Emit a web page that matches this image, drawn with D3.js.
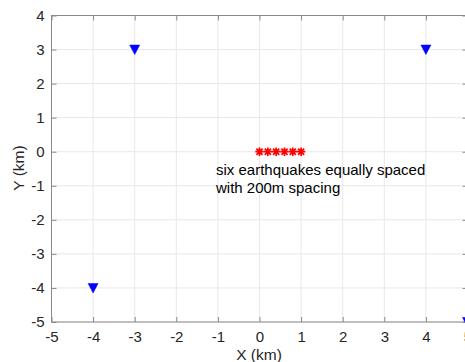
<!DOCTYPE html>
<html>
<head>
<meta charset="utf-8">
<script src="https://cdn.jsdelivr.net/npm/d3@7"></script>
<style>
  html, body { margin: 0; padding: 0; background: #fff; overflow: hidden; }
  svg { display: block; font-family: "Liberation Sans", Arial, Helvetica, sans-serif; }
</style>
</head>
<body>
<svg id="chart" width="465" height="362"></svg>
<script>
// ---- data ----
const stationX = [-3, 4, -4, 5];
const stationY = [3, 3, -4, -5];
const quakeX = [0, 0.2, 0.4, 0.6, 0.8, 1.0];
const quakeY = [0, 0, 0, 0, 0, 0];
const xTicks = [-5, -4, -3, -2, -1, 0, 1, 2, 3, 4, 5];
const yTicks = [-5, -4, -3, -2, -1, 0, 1, 2, 3, 4];
const annotationLines = ["six earthquakes equally spaced", "with 200m spacing"];
const xLabel = "X (km)";
const yLabel = "Y (km)";

// ---- layout ----
const mLeft = 51.5, mRight = 467.5, mTop = 15.5, mBottom = 322;
const svg = d3.select("#chart");

const x = d3.scaleLinear().domain([-5, 5]).range([mLeft, mRight]);
const y = d3.scaleLinear().domain([-5, 4]).range([mBottom, mTop]);

const gridColor = "#e8e8e8";
const axisColor = "#8a8a8a";
const textColor = "#262626";
const FONT = "Liberation Sans, Arial, Helvetica, sans-serif";
const fmt = d => String(d);

// grid
const grid = svg.append("g");
grid.selectAll("line.gx").data(xTicks).join("line").attr("class", "gx")
  .attr("x1", d => x(d)).attr("x2", d => x(d))
  .attr("y1", mTop).attr("y2", mBottom)
  .attr("stroke", gridColor).attr("stroke-width", 1);
grid.selectAll("line.gy").data(yTicks).join("line").attr("class", "gy")
  .attr("x1", mLeft).attr("x2", mRight)
  .attr("y1", d => y(d)).attr("y2", d => y(d))
  .attr("stroke", gridColor).attr("stroke-width", 1);

// axes (ticks inward)
function styleAxis(g, showLabels) {
  g.attr("font-family", FONT);
  g.select(".domain").remove();
  g.selectAll(".tick line").attr("stroke", axisColor);
  g.selectAll(".tick text")
    .attr("fill", textColor)
    .style("font-size", "15px")
    .style("display", showLabels ? null : "none");
}
svg.append("g").attr("transform", `translate(0,${mBottom})`)
  .call(d3.axisBottom(x).tickValues(xTicks).tickSize(-5).tickPadding(9).tickFormat(fmt))
  .call(g => styleAxis(g, true));
svg.append("g").attr("transform", `translate(0,${mTop})`)
  .call(d3.axisTop(x).tickValues(xTicks).tickSize(-5).tickFormat(""))
  .call(g => styleAxis(g, false));
svg.append("g").attr("transform", `translate(${mLeft},0)`)
  .call(d3.axisLeft(y).tickValues(yTicks).tickSize(-5).tickPadding(7).tickFormat(fmt))
  .call(g => styleAxis(g, true));
svg.append("g").attr("transform", `translate(${mRight},0)`)
  .call(d3.axisRight(y).tickValues(yTicks).tickSize(-5).tickFormat(""))
  .call(g => styleAxis(g, false));

// box
svg.append("rect")
  .attr("x", mLeft).attr("y", mTop)
  .attr("width", mRight - mLeft).attr("height", mBottom - mTop)
  .attr("fill", "none").attr("stroke", axisColor).attr("stroke-width", 1);

// stations: downward triangles
const stations = stationX.map((d, i) => ({ x: stationX[i], y: stationY[i] }));
svg.append("g").selectAll("path").data(stations).join("path")
  .attr("transform", d => `translate(${x(d.x)},${y(d.y)})`)
  .attr("d", "M-5,-4.5 L5,-4.5 L0,5 Z")
  .attr("fill", "#0000ff").attr("stroke", "#0000ff").attr("stroke-width", 0.5);

// earthquakes: asterisks
const quakes = quakeX.map((d, i) => ({ x: quakeX[i], y: quakeY[i] }));
const r = 4.2, rd = 3.1;
const starPath = `M${-r},0L${r},0M0,${-r}L0,${r}M${-rd},${-rd}L${rd},${rd}M${-rd},${rd}L${rd},${-rd}`;
svg.append("g").selectAll("path").data(quakes).join("path")
  .attr("transform", d => `translate(${x(d.x)},${y(d.y)})`)
  .attr("d", starPath)
  .attr("fill", "none").attr("stroke", "#ff0000").attr("stroke-width", 1.7);

// annotation
const ann = svg.append("text")
  .attr("x", 216).attr("y", 175)
  .attr("fill", "#000").attr("font-family", FONT).style("font-size", "15px");
ann.selectAll("tspan").data(annotationLines).join("tspan")
  .attr("x", 216).attr("dy", (d, i) => i === 0 ? 0 : 18)
  .text(d => d);

// axis labels
svg.append("text")
  .attr("x", (mLeft + mRight) / 2 - 0.5).attr("y", 360)
  .attr("text-anchor", "middle").attr("fill", textColor).attr("font-family", FONT)
  .style("font-size", "15.5px").text(xLabel);
svg.append("text")
  .attr("transform", `translate(24,168) rotate(-90)`)
  .attr("text-anchor", "middle").attr("fill", textColor).attr("font-family", FONT)
  .style("font-size", "15.5px").text(yLabel);
</script>
</body>
</html>
